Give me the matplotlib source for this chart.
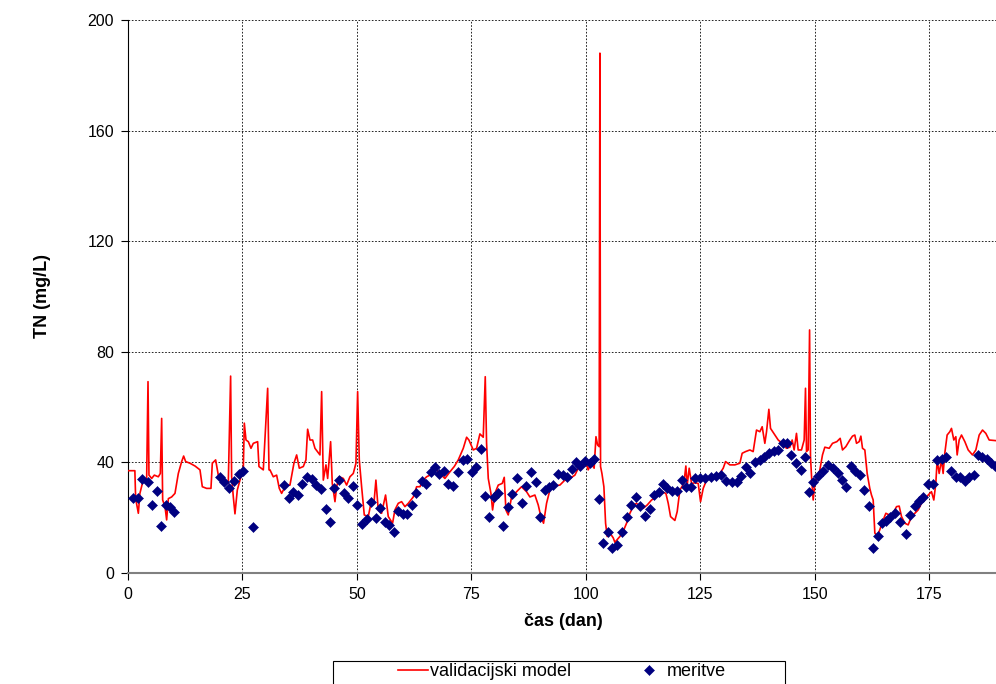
import matplotlib.pyplot as plt
from matplotlib.patches import Rectangle

plt.rcParams['font.family'] = ['Liberation Sans', 'DejaVu Sans']

# validacijski model (cas v dneh, TN v mg/L)
model_dan = [0, 1.5, 1.67, 2.26, 2.6, 3.35, 4.07, 4.37, 4.58, 5.17, 5.75, 6.62, 7.06, 7.35, 7.57,
             8.08, 8.44, 8.81, 9.53, 10.26, 10.99, 11.72, 12.15, 12.59, 13.53, 14.63, 15.72, 16.23,
             17.17, 18.12, 18.41, 19.14, 19.72, 20.81, 21.9, 22.41, 22.63, 23.0, 23.36, 23.87, 24.45,
             25.18, 25.4, 25.77, 26.28, 26.86, 27.37, 28.31, 28.6, 29.55, 30.5, 30.79, 31.0, 31.73,
             32.46, 33.04, 33.55, 34.49, 35.37, 36.24, 36.83, 37.41, 38.28, 38.86, 39.23, 39.74,
             40.32, 40.83, 41.92, 42.29, 42.65, 43.23, 43.6, 44.25, 44.61, 45.2, 45.56, 46.14, 47.02,
             47.74, 48.47, 49.2, 49.78, 50.15, 50.51, 51.02, 51.6, 52.47, 53.2, 53.71, 54.14, 54.65,
             55.38, 56.25, 56.84, 57.78, 58.29, 59.02, 59.75, 60.48, 61.21, 62.3, 63.03, 63.76,
             64.48, 65.21, 65.94, 67.03, 68.12, 69.21, 70.31, 71.25, 72.13, 73.22, 73.95, 74.45,
             75.4, 76.13, 76.85, 77.58, 78.02, 78.31, 78.68, 79.26, 79.62, 80.13, 80.86, 81.73,
             82.17, 82.53, 83.04, 83.77, 84.86, 85.95, 87.04, 87.77, 88.86, 89.59, 90.17, 90.75,
             91.41, 92.13, 93.22, 94.32, 95.41, 96.51, 97.6, 98.33, 99.05, 100.0, 100.5, 101.2,
             101.8, 102.2, 102.55, 102.9, 103.06, 103.2, 103.5, 103.93, 104.3, 104.66, 105.24,
             105.97, 106.33, 106.84, 107.42, 108.15, 108.88, 109.61, 110.48, 111.06, 111.79, 112.52,
             113.39, 114.34, 115.43, 116.52, 117.47, 117.98, 118.49, 119.43, 119.94, 120.52, 121.4,
             121.83, 122.12, 122.56, 123.07, 123.8, 124.53, 125.04, 125.62, 126.35, 127.07, 128.17,
             129.26, 129.99, 130.5, 131.44, 132.53, 133.62, 134.13, 134.86, 135.81, 136.53, 137.26,
             137.99, 138.5, 139.08, 139.45, 139.96, 140.32, 141.27, 142.0, 142.87, 143.81, 144.54,
             145.05, 145.48, 145.99, 146.36, 147.08, 147.67, 147.96, 148.18, 148.54, 148.85, 149.05,
             149.28, 149.64, 150.0, 150.95, 151.67, 152.18, 153.13, 153.86, 154.8, 155.53, 156.04,
             156.77, 157.64, 158.22, 158.73, 159.1, 159.68, 160.05, 160.41, 160.92, 161.43, 162.0,
             162.37, 162.74, 163.1, 163.61, 164.2, 164.93, 165.51, 166.24, 167.1, 167.84, 168.42,
             168.93, 169.65, 170.38, 171.11, 171.84, 172.56, 173.29, 174.02, 174.75, 175.47, 175.98,
             176.42, 176.71, 177.15, 177.66, 178.02, 178.38, 178.89, 179.48, 179.84, 180.35, 180.79,
             181.08, 181.52, 182.03, 182.76, 183.49, 184.43, 185.16, 185.89, 186.62, 187.34, 188.07,
             190]
model_tn = [37.0, 37.0, 26.9, 21.6, 28.8, 33.8, 33.8, 69.2, 35.4, 34.2, 35.4, 34.8, 36.0, 55.9, 26.4,
            24.0, 19.2, 26.9, 27.5, 28.8, 36.0, 40.3, 42.3, 40.3, 39.7, 38.7, 37.3, 31.2,
            30.6, 30.6, 39.7, 40.9, 35.4, 33.6, 32.4, 71.2, 34.8, 27.5, 21.4, 30.0, 33.6,
            37.3, 54.2, 48.1, 47.5, 45.1, 46.9, 47.5, 38.5, 37.3, 66.8, 37.3, 37.3, 34.8,
            35.4, 30.6, 28.8, 31.8, 31.8, 39.7, 42.7, 37.9, 38.5, 40.9, 52.0, 48.1,
            48.1, 45.1, 42.7, 65.6, 33.6, 39.1, 34.2, 47.5, 32.4, 25.8, 31.2, 34.8, 34.2,
            31.8, 34.8, 36.0, 39.7, 65.6, 40.9, 31.2, 21.0, 20.4, 26.4, 25.2, 33.6, 22.8,
            21.6, 28.2, 20.4, 18.0, 22.8, 25.2, 25.8, 24.0, 25.2, 27.5, 31.2, 31.2,
            33.6, 34.8, 35.4, 37.9, 36.0, 34.2, 36.6, 38.5, 40.9, 45.1, 49.1, 48.1,
            44.5, 45.1, 50.3, 49.1, 71.0, 46.9, 34.2, 28.8, 22.8, 28.8, 31.8, 32.4,
            34.6, 22.8, 21.0, 27.5, 29.4, 31.2, 29.4, 27.5, 28.2, 24.6, 20.4, 18.0,
            25.2, 30.0, 31.5, 31.8, 33.6, 34.2, 35.4, 37.9, 38.5, 40.3, 37.3, 39.7,
            37.9, 49.3, 46.3, 45.7, 188.0, 38.5, 36.0, 31.2, 18.0, 13.2, 14.5,
            12.7, 11.1, 12.1, 13.2, 15.1, 18.0, 21.6, 24.6, 25.2, 24.0, 23.4,
            24.6, 26.4, 27.5, 29.4, 28.8, 25.2, 20.4, 19.0, 22.2, 30.0, 32.4,
            38.7, 31.8, 37.9, 32.4, 32.6, 32.4, 25.8, 30.6, 33.6, 34.2, 35.4,
            36.0, 37.9, 40.3, 39.1, 39.1, 39.7, 43.3, 43.9, 44.5, 43.9, 51.7,
            51.1, 52.9, 46.9, 51.1, 59.2, 52.3, 49.9, 48.1, 46.9, 45.1, 45.5,
            48.1, 44.5, 50.5, 44.5, 44.5, 48.1, 66.8, 43.9, 44.5, 87.9, 42.1,
            34.8, 26.4, 32.4, 36.0, 42.7, 45.5, 45.1, 46.9, 47.5, 48.7, 44.5,
            45.7, 48.1, 49.5, 49.9, 46.9, 47.5, 49.5, 45.1, 44.5, 36.0, 30.6,
            28.2, 26.4, 14.5, 13.2, 15.7, 19.2, 21.6, 21.0, 21.6, 24.0, 24.2,
            20.4, 18.0, 17.4, 20.4, 21.6, 22.8, 25.2, 26.4, 28.2, 29.4, 26.4,
            32.4, 40.9, 36.0, 40.9, 36.0, 43.3, 49.9, 51.1, 52.3, 48.1, 49.3,
            42.7, 48.1, 49.9, 47.5, 44.5, 42.7, 44.5, 49.9, 51.7, 50.5, 48.1,
            47.8]

# meritve
meritve_dan = [1.2, 2.2, 3.1, 4.3, 5.3, 6.3, 7.2, 8.3, 9.2, 10.1, 20.1, 21.0, 22.1, 23.2, 24.2, 25.2,
               27.2, 34.1, 35.1, 36.1, 37.2, 38.1, 39.0, 40.1, 41.0, 42.1, 43.2, 44.1, 45.0, 46.1,
               47.2, 48.1, 49.1, 50.1, 51.2, 52.1, 53.1, 54.1, 55.0, 56.1, 57.1, 58.1, 59.0, 60.0,
               61.0, 62.1, 63.0, 64.1, 65.0, 66.2, 67.0, 67.9, 69.0, 69.9, 71.0, 72.0, 73.1, 74.1,
               75.2, 76.1, 77.1, 77.9, 78.9, 79.9, 80.9, 81.9, 82.9, 83.9, 85.0, 86.0, 87.0, 88.0,
               89.0, 89.9, 91.0, 92.0, 92.9, 94.0, 94.9, 95.9, 96.9, 97.8, 98.8, 99.8, 100.9, 101.8,
               102.9, 103.8, 104.9, 105.8, 106.8, 107.9, 108.9, 109.8, 110.9, 111.8, 113.0, 113.9,
               114.9, 115.9, 116.9, 117.8, 118.8, 119.8, 120.9, 121.8, 122.9, 123.8, 124.9, 126.0,
               127.4, 128.5, 129.6, 130.7, 131.8, 132.9, 133.8, 134.9, 135.8, 136.9, 138.0, 138.9,
               140.0, 141.0, 142.0, 143.1, 144.0, 144.8, 145.8, 146.9, 147.8, 148.8, 149.6, 150.7,
               151.8, 152.9, 154.0, 155.0, 156.0, 156.9, 157.8, 158.7, 159.8, 160.8, 161.8, 162.7,
               163.7, 164.7, 165.6, 166.5, 167.5, 168.6, 169.8, 170.7, 171.8, 172.8, 173.6, 174.7,
               175.8, 176.7, 177.8, 178.7, 179.7, 180.8, 181.8, 182.8, 183.7, 184.7, 185.7, 186.6,
               187.5, 188.4, 189.3]
meritve_tn = [27.0, 27.0, 34.0, 32.8, 24.6, 29.7, 17.0, 24.6, 24.0, 22.2, 34.8, 33.0, 30.9, 33.4, 35.8, 36.9,
              16.7, 31.8, 27.2, 29.2, 28.2, 32.2, 34.6, 34.0, 31.9, 30.3, 23.3, 18.6, 30.6, 33.6,
              28.8, 27.0, 31.5, 24.6, 17.7, 19.6, 25.8, 19.8, 23.4, 18.3, 17.5, 14.9, 22.5, 21.3,
              21.3, 24.6, 28.8, 33.4, 32.2, 36.6, 38.5, 35.8, 36.9, 32.1, 31.5, 36.6, 40.9, 41.2,
              36.4, 38.2, 44.8, 27.8, 20.4, 27.6, 28.8, 17.0, 24.0, 28.6, 34.2, 25.4, 31.5, 36.4,
              32.8, 20.1, 30.0, 31.0, 31.8, 35.7, 35.4, 34.6, 37.5, 40.3, 38.7, 40.5, 39.7, 41.1,
              26.8, 11.0, 14.9, 8.9, 10.1, 14.7, 20.4, 24.6, 27.6, 24.2, 20.6, 23.1,
              28.2, 29.2, 32.2, 30.6, 29.8, 29.7, 33.6, 31.2, 31.2, 34.2, 34.2, 34.2,
              34.6, 35.1, 35.4, 33.4, 33.0, 33.0, 35.1, 38.2, 36.3, 40.3, 40.9, 42.1,
              43.3, 44.1, 44.5, 47.1, 46.9, 42.7, 39.9, 37.3, 42.1, 29.4, 32.8, 35.1,
              36.9, 39.1, 37.9, 36.3, 33.6, 31.2, 38.7, 36.9, 35.4, 30.0, 24.3, 8.9,
              13.4, 18.0, 18.9, 20.1, 21.8, 18.6, 14.1, 21.0, 24.2, 26.2, 27.6, 32.1,
              32.2, 40.9, 41.2, 41.8, 37.0, 34.6, 34.8, 33.4, 34.6, 35.4, 42.7, 41.8,
              41.1, 39.9, 38.7]

fig = plt.figure(figsize=(9.96, 6.84), dpi=100)
ax = fig.add_axes([128 / 996, 1 - 573 / 684, 870 / 996, 553 / 684])

ax.plot(model_dan, model_tn, color='#ff0000', lw=1.2, label='validacijski model', zorder=3)
ax.plot(meritve_dan, meritve_tn, ls='none', marker='D', ms=4.6, mew=0.4, color='#000080',
        mec='#000080', label='meritve', zorder=4)

ax.set_xlim(0, 190)
ax.set_ylim(0, 200)
ax.set_xticks(range(0, 190, 25))
ax.set_yticks(range(0, 201, 40))
ax.grid(True, color='black', ls=(0, (2, 2)), lw=0.6)
ax.set_axisbelow(True)

for s in ['top', 'right']:
    ax.spines[s].set_visible(False)
ax.spines['left'].set_color('black')
ax.spines['bottom'].set_color('#808080')
ax.spines['bottom'].set_linewidth(1.5)
ax.tick_params(direction='out', length=5, labelsize=11.5, pad=5)

ax.set_xlabel('čas (dan)', fontsize=13, fontweight='bold', labelpad=8)
ax.set_ylabel('TN (mg/L)', fontsize=13, fontweight='bold', labelpad=26)

# legenda (spodaj, odrezana na robu slike)
fig.legend(loc='upper center', bbox_to_anchor=(562 / 996, 1 - 663 / 684), ncol=2,
           fontsize=13, frameon=False, handlelength=1.65, columnspacing=3.5,
           borderpad=0, borderaxespad=0, handletextpad=0.15)
fig.patches.append(Rectangle((333 / 996, 1 - 720 / 684), 452 / 996, 59 / 684,
                             transform=fig.transFigure, fill=False, ec='black', lw=0.8))

fig.savefig('out.png', dpi=100)
